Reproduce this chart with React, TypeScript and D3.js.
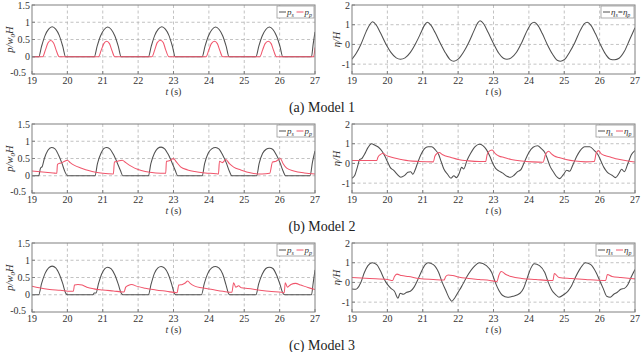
import { useEffect, useRef } from "react";
import * as d3 from "d3";

type Pt = [number, number];

const tTicks = [19, 20, 21, 22, 23, 24, 25, 26, 27];
const pTicks = [-0.5, 0, 0.5, 1, 1.5];
const etaTicks = [-1, 0, 1, 2];
const captions = ["(a) Model 1", "(b) Model 2", "(c) Model 3"];

// Model 1
const pA_s: Pt[] = [
  [19.0, 0], [19.19, 0], [19.27, 0.3], [19.37, 0.62], [19.47, 0.8], [19.57, 0.87], [19.67, 0.8], [19.77, 0.62], [19.87, 0.3], [19.95, 0],
  [20.76, 0], [20.84, 0.3], [20.94, 0.61], [21.04, 0.79], [21.14, 0.86], [21.24, 0.79], [21.34, 0.61], [21.44, 0.3], [21.52, 0],
  [22.29, 0], [22.37, 0.3], [22.47, 0.62], [22.57, 0.8], [22.67, 0.87], [22.77, 0.8], [22.87, 0.62], [22.97, 0.3], [23.05, 0],
  [23.81, 0], [23.89, 0.3], [23.99, 0.61], [24.09, 0.79], [24.19, 0.86], [24.29, 0.79], [24.39, 0.61], [24.49, 0.3], [24.57, 0],
  [25.33, 0], [25.41, 0.3], [25.51, 0.61], [25.61, 0.79], [25.71, 0.86], [25.81, 0.79], [25.91, 0.61], [26.01, 0.3], [26.09, 0],
  [26.9, 0], [26.95, 0.38], [27.0, 0.72],
];
const pA_p: Pt[] = [
  [19.0, 0], [19.3, 0], [19.38, 0.2], [19.45, 0.4], [19.53, 0.47], [19.61, 0.4], [19.68, 0.2], [19.77, 0],
  [20.88, 0], [20.96, 0.2], [21.03, 0.38], [21.11, 0.45], [21.19, 0.38], [21.26, 0.18], [21.34, 0],
  [22.39, 0], [22.47, 0.2], [22.54, 0.41], [22.63, 0.48], [22.71, 0.41], [22.78, 0.2], [22.87, 0],
  [23.92, 0], [24.0, 0.2], [24.07, 0.38], [24.16, 0.45], [24.24, 0.38], [24.31, 0.18], [24.39, 0],
  [25.44, 0], [25.52, 0.2], [25.59, 0.38], [25.68, 0.45], [25.76, 0.38], [25.83, 0.18], [25.91, 0],
  [26.96, 0], [27.0, 0.27],
];
const etaA: Pt[] = [
  [19.0, -0.75], [19.12, -0.45], [19.25, 0.0], [19.4, 0.65], [19.5, 1.0], [19.58, 1.15], [19.68, 1.0], [19.8, 0.6], [19.95, 0.05],
  [20.1, -0.4], [20.25, -0.68], [20.37, -0.75], [20.5, -0.68], [20.65, -0.4], [20.8, 0.05], [20.95, 0.6], [21.05, 0.98], [21.13, 1.12],
  [21.23, 0.98], [21.35, 0.6], [21.5, 0.05], [21.65, -0.45], [21.78, -0.78], [21.88, -0.85], [22.0, -0.75], [22.15, -0.4], [22.3, 0.1],
  [22.45, 0.7], [22.55, 1.08], [22.62, 1.2], [22.72, 1.05], [22.85, 0.6], [23.0, 0.05], [23.15, -0.45], [23.28, -0.7], [23.38, -0.75],
  [23.5, -0.68], [23.65, -0.4], [23.8, 0.1], [23.95, 0.7], [24.07, 1.05], [24.15, 1.12], [24.25, 0.98], [24.38, 0.55], [24.52, 0.0],
  [24.67, -0.5], [24.8, -0.8], [24.9, -0.85], [25.02, -0.75], [25.15, -0.4], [25.3, 0.1], [25.45, 0.7], [25.57, 1.05], [25.65, 1.12],
  [25.75, 0.98], [25.88, 0.55], [26.02, 0.0], [26.17, -0.5], [26.3, -0.75], [26.42, -0.78], [26.55, -0.7], [26.7, -0.35], [26.85, 0.25],
  [27.0, 0.85],
];

// Model 2
const pB_s: Pt[] = [
  [19.0, 0], [19.19, 0], [19.24, 0.22], [19.29, 0.27], [19.35, 0.5], [19.45, 0.74], [19.55, 0.82], [19.65, 0.78], [19.75, 0.6], [19.85, 0.35], [19.93, 0.12], [20.0, 0],
  [20.78, 0], [20.85, 0.35], [20.95, 0.65], [21.02, 0.78], [21.1, 0.82], [21.2, 0.78], [21.3, 0.62], [21.4, 0.4], [21.5, 0.15], [21.57, 0],
  [22.29, 0], [22.36, 0.35], [22.46, 0.65], [22.55, 0.79], [22.65, 0.83], [22.75, 0.78], [22.85, 0.62], [22.95, 0.4], [23.05, 0.15], [23.12, 0],
  [23.81, 0], [23.88, 0.35], [23.98, 0.65], [24.08, 0.78], [24.19, 0.82], [24.29, 0.77], [24.39, 0.6], [24.49, 0.38], [24.58, 0.13], [24.65, 0],
  [25.35, 0], [25.42, 0.35], [25.52, 0.65], [25.62, 0.77], [25.71, 0.8], [25.81, 0.76], [25.91, 0.6], [26.01, 0.38], [26.1, 0.13], [26.17, 0],
  [26.86, 0], [26.93, 0.4], [27.0, 0.72],
];
const pB_p: Pt[] = [
  [19.0, 0.14], [19.3, 0.11], [19.6, 0.08], [19.7, 0.07], [19.72, 0.33], [19.78, 0.36], [19.85, 0.38], [19.92, 0.42], [20.0, 0.45],
  [20.08, 0.38], [20.2, 0.3], [20.4, 0.22], [20.6, 0.15], [20.8, 0.1], [21.0, 0.07], [21.3, 0.05], [21.33, 0.4], [21.42, 0.42],
  [21.55, 0.45], [21.65, 0.38], [21.8, 0.28], [22.0, 0.18], [22.2, 0.12], [22.5, 0.08], [22.78, 0.07], [22.8, 0.42], [22.9, 0.44],
  [23.0, 0.5], [23.08, 0.4], [23.2, 0.26], [23.4, 0.17], [23.6, 0.12], [23.9, 0.08], [24.2, 0.06], [24.27, 0.05], [24.3, 0.42],
  [24.38, 0.38], [24.48, 0.47], [24.58, 0.35], [24.7, 0.25], [24.9, 0.17], [25.2, 0.08], [25.5, 0.05], [25.72, 0.07], [25.8, 0.4],
  [25.9, 0.42], [26.02, 0.5], [26.1, 0.35], [26.2, 0.22], [26.4, 0.14], [26.7, 0.08], [27.0, 0.05],
];
const etaB_s: Pt[] = [
  [19.0, -0.75], [19.08, -0.6], [19.15, -0.2], [19.22, 0.2], [19.28, 0.25], [19.35, 0.45], [19.45, 0.8], [19.55, 1.0], [19.65, 0.92],
  [19.75, 0.82], [19.85, 0.62], [19.92, 0.4], [20.0, 0.1], [20.08, -0.2], [20.18, -0.35], [20.28, -0.55], [20.38, -0.7], [20.48, -0.62],
  [20.58, -0.45], [20.66, -0.42], [20.72, -0.55], [20.78, -0.35], [20.86, 0.05], [20.95, 0.45], [21.05, 0.75], [21.15, 0.85], [21.25, 0.85],
  [21.35, 0.7], [21.45, 0.45], [21.52, 0.1], [21.6, -0.3], [21.7, -0.55], [21.8, -0.75], [21.88, -0.62], [21.95, -0.72], [22.02, -0.55],
  [22.1, -0.2], [22.16, -0.28], [22.25, 0.15], [22.35, 0.5], [22.48, 0.85], [22.6, 0.97], [22.7, 0.9], [22.8, 0.7], [22.9, 0.35],
  [22.98, 0.0], [23.06, -0.25], [23.15, -0.38], [23.25, -0.48], [23.38, -0.65], [23.48, -0.7], [23.58, -0.6], [23.68, -0.42], [23.78, -0.3],
  [23.88, 0.1], [24.0, 0.55], [24.12, 0.82], [24.25, 0.9], [24.35, 0.75], [24.45, 0.55], [24.52, 0.25], [24.6, -0.15], [24.7, -0.45],
  [24.8, -0.7], [24.87, -0.77], [24.97, -0.58], [25.07, -0.35], [25.15, -0.4], [25.25, -0.05], [25.35, 0.35], [25.45, 0.65], [25.58, 0.85],
  [25.72, 0.85], [25.85, 0.65], [25.95, 0.45], [26.03, 0.15], [26.12, -0.2], [26.22, -0.45], [26.35, -0.6], [26.45, -0.72], [26.55, -0.5],
  [26.62, -0.3], [26.7, -0.42], [26.8, 0.0], [26.9, 0.45], [27.0, 0.65],
];
const etaB_p: Pt[] = [
  [19.0, 0.15], [19.4, 0.15], [19.7, 0.15], [19.73, 0.3], [19.8, 0.45], [19.88, 0.52], [19.95, 0.42], [20.05, 0.35], [20.2, 0.27],
  [20.4, 0.2], [20.6, 0.14], [20.9, 0.1], [21.3, 0.08], [21.34, 0.35], [21.4, 0.5], [21.47, 0.55], [21.55, 0.45], [21.65, 0.38],
  [21.8, 0.3], [22.0, 0.2], [22.3, 0.13], [22.6, 0.1], [22.78, 0.1], [22.82, 0.45], [22.9, 0.65], [22.96, 0.68], [23.05, 0.5],
  [23.15, 0.38], [23.3, 0.3], [23.5, 0.2], [23.8, 0.12], [24.1, 0.08], [24.4, 0.06], [24.47, 0.45], [24.56, 0.62], [24.63, 0.5],
  [24.72, 0.38], [24.85, 0.3], [25.05, 0.2], [25.3, 0.12], [25.6, 0.08], [25.85, 0.1], [25.9, 0.5], [25.97, 0.65], [26.05, 0.48],
  [26.15, 0.4], [26.3, 0.33], [26.5, 0.22], [26.8, 0.12], [27.0, 0.07],
];

// Model 3
const pC_s: Pt[] = [
  [19.0, 0], [19.19, 0], [19.27, 0.32], [19.37, 0.62], [19.47, 0.78], [19.57, 0.83], [19.67, 0.78], [19.77, 0.6], [19.87, 0.32], [19.95, 0.05], [20.0, 0],
  [20.72, 0], [20.76, 0.05], [20.81, 0.05], [20.88, 0.32], [20.97, 0.6], [21.06, 0.76], [21.14, 0.8], [21.24, 0.75], [21.34, 0.58], [21.44, 0.3], [21.52, 0.05], [21.57, 0],
  [22.29, 0], [22.37, 0.32], [22.46, 0.62], [22.56, 0.78], [22.65, 0.82], [22.75, 0.77], [22.85, 0.6], [22.95, 0.3], [23.02, 0.05], [23.06, 0],
  [23.79, 0], [23.87, 0.32], [23.97, 0.62], [24.08, 0.78], [24.19, 0.82], [24.29, 0.77], [24.39, 0.6], [24.48, 0.3], [24.55, 0.05], [24.58, 0],
  [25.33, 0], [25.41, 0.32], [25.51, 0.6], [25.61, 0.76], [25.71, 0.8], [25.81, 0.76], [25.91, 0.58], [26.01, 0.3], [26.09, 0.05], [26.14, 0],
  [26.9, 0], [26.95, 0.35], [27.0, 0.72],
];
const pC_p: Pt[] = [
  [19.0, 0.25], [19.2, 0.2], [19.5, 0.15], [19.8, 0.13], [20.1, 0.1], [20.17, 0.1], [20.2, 0.28], [20.3, 0.3], [20.42, 0.28],
  [20.55, 0.22], [20.75, 0.17], [21.0, 0.14], [21.3, 0.11], [21.6, 0.08], [21.65, 0.22], [21.72, 0.27], [21.82, 0.3], [21.95, 0.25],
  [22.2, 0.19], [22.5, 0.14], [22.8, 0.1], [23.1, 0.06], [23.15, 0.28], [23.25, 0.3], [23.33, 0.34], [23.4, 0.4], [23.48, 0.32],
  [23.6, 0.25], [23.8, 0.2], [24.1, 0.15], [24.4, 0.1], [24.65, 0.07], [24.7, 0.35], [24.76, 0.22], [24.84, 0.26], [24.92, 0.2],
  [25.1, 0.18], [25.4, 0.14], [25.7, 0.1], [26.05, 0.07], [26.13, 0.06], [26.16, 0.35], [26.22, 0.22], [26.32, 0.3], [26.45, 0.33],
  [26.6, 0.28], [26.8, 0.21], [27.0, 0.15],
];
const etaC_s: Pt[] = [
  [19.0, -0.33], [19.1, -0.35], [19.15, -0.3], [19.25, 0.0], [19.35, 0.5], [19.45, 0.85], [19.57, 1.0], [19.7, 0.9], [19.8, 0.6],
  [19.9, 0.2], [20.0, -0.1], [20.1, -0.3], [20.2, -0.45], [20.3, -0.8], [20.36, -0.55], [20.45, -0.6], [20.55, -0.5], [20.65, -0.45],
  [20.75, -0.25], [20.85, 0.1], [20.95, 0.5], [21.07, 0.9], [21.15, 1.0], [21.3, 0.9], [21.45, 0.5], [21.55, 0.0], [21.65, -0.4],
  [21.75, -0.8], [21.82, -0.95], [21.9, -0.8], [22.0, -0.5], [22.1, -0.2], [22.25, 0.3], [22.45, 0.8], [22.6, 1.0], [22.8, 0.85],
  [22.95, 0.5], [23.05, 0.0], [23.15, -0.4], [23.25, -0.65], [23.4, -0.75], [23.55, -0.7], [23.75, -0.55], [23.85, -0.3], [23.95, 0.2],
  [24.05, 0.7], [24.15, 0.95], [24.3, 0.85], [24.45, 0.5], [24.55, 0.0], [24.65, -0.4], [24.75, -0.6], [24.85, -0.75], [25.0, -0.6],
  [25.1, -0.45], [25.2, -0.2], [25.3, 0.2], [25.45, 0.7], [25.6, 1.0], [25.75, 0.9], [25.9, 0.5], [26.0, 0.1], [26.1, -0.3],
  [26.2, -0.7], [26.3, -0.75], [26.4, -0.6], [26.5, -0.5], [26.6, -0.35], [26.7, -0.3], [26.8, -0.1], [26.9, 0.3], [27.0, 0.65],
];
const etaC_p: Pt[] = [
  [19.0, 0.25], [19.5, 0.2], [20.0, 0.15], [20.15, 0.1], [20.2, 0.3], [20.27, 0.42], [20.4, 0.35], [20.6, 0.3], [20.9, 0.2],
  [21.3, 0.15], [21.6, 0.12], [21.65, 0.3], [21.72, 0.38], [21.85, 0.35], [22.0, 0.28], [22.3, 0.2], [22.6, 0.15], [22.9, 0.1],
  [23.1, 0.05], [23.15, 0.35], [23.22, 0.55], [23.35, 0.4], [23.5, 0.3], [23.8, 0.2], [24.2, 0.15], [24.6, 0.1], [24.68, 0.1],
  [24.72, 0.45], [24.85, 0.25], [25.2, 0.2], [25.6, 0.15], [26.1, 0.1], [26.17, 0.1], [26.22, 0.4], [26.35, 0.3], [26.6, 0.25],
  [27.0, 0.18],
];

const BLACK = "#505050";
const RED = "#f0566c";
const FONT = "'Liberation Serif', 'Times New Roman', serif";

const colX = [[32, 315], [352, 635]];
const rowY = [5, 124, 243];
const plotH = 69;

type Panel = {
  row: number;
  col: number;
  kind: "p" | "eta";
  lines: { data: Pt[]; color: string }[];
  legend: "p" | "eta1" | "eta2";
};

const panels: Panel[] = [
  { row: 0, col: 0, kind: "p", lines: [{ data: pA_s, color: BLACK }, { data: pA_p, color: RED }], legend: "p" },
  { row: 0, col: 1, kind: "eta", lines: [{ data: etaA, color: BLACK }], legend: "eta1" },
  { row: 1, col: 0, kind: "p", lines: [{ data: pB_s, color: BLACK }, { data: pB_p, color: RED }], legend: "p" },
  { row: 1, col: 1, kind: "eta", lines: [{ data: etaB_s, color: BLACK }, { data: etaB_p, color: RED }], legend: "eta2" },
  { row: 2, col: 0, kind: "p", lines: [{ data: pC_s, color: BLACK }, { data: pC_p, color: RED }], legend: "p" },
  { row: 2, col: 1, kind: "eta", lines: [{ data: etaC_s, color: BLACK }, { data: etaC_p, color: RED }], legend: "eta2" },
];

export default function App() {
  const svgRef = useRef<SVGSVGElement>(null);

  useEffect(() => {
    if (!svgRef.current) return;
    const svg = d3.select(svgRef.current);
    svg.selectAll("*").remove();
    const defs = svg.append("defs");

    panels.forEach((pn, i) => {
      const [x0, x1] = colX[pn.col];
      const y0 = rowY[pn.row];
      const y1 = y0 + plotH;
      const x = d3.scaleLinear().domain([19, 27]).range([x0, x1]);
      const yDom = pn.kind === "p" ? [-0.5, 1.5] : [-1.5, 2];
      const y = d3.scaleLinear().domain(yDom).range([y1, y0]);
      const yTicks = pn.kind === "p" ? pTicks : etaTicks;
      const yGrid = pn.kind === "p" ? [0, 0.5, 1] : [-1, 0, 1];
      const g = svg.append("g");

      // dashed grid
      g.selectAll(".vg")
        .data(tTicks.slice(1, -1))
        .join("line")
        .attr("x1", (d) => x(d))
        .attr("x2", (d) => x(d))
        .attr("y1", y0)
        .attr("y2", y1)
        .attr("stroke", "#b4b4b4")
        .attr("stroke-width", 0.8)
        .attr("stroke-dasharray", "3,2.5");
      g.selectAll(".hg")
        .data(yGrid)
        .join("line")
        .attr("x1", x0)
        .attr("x2", x1)
        .attr("y1", (d) => y(d))
        .attr("y2", (d) => y(d))
        .attr("stroke", "#b4b4b4")
        .attr("stroke-width", 0.8)
        .attr("stroke-dasharray", "3,2.5");

      // lines
      defs
        .append("clipPath")
        .attr("id", `clip${i}`)
        .append("rect")
        .attr("x", x0)
        .attr("y", y0)
        .attr("width", x1 - x0)
        .attr("height", plotH);
      const line = d3
        .line<Pt>()
        .x((d) => x(d[0]))
        .y((d) => y(d[1]))
        .curve(d3.curveMonotoneX);
      pn.lines.forEach((ln) => {
        g.append("path")
          .attr("d", line(ln.data) ?? "")
          .attr("fill", "none")
          .attr("stroke", ln.color)
          .attr("stroke-width", 1.05)
          .attr("clip-path", `url(#clip${i})`);
      });

      // frame
      g.append("rect")
        .attr("x", x0)
        .attr("y", y0)
        .attr("width", x1 - x0)
        .attr("height", plotH)
        .attr("fill", "none")
        .attr("stroke", "#808080")
        .attr("stroke-width", 1);

      // ticks
      g.selectAll(".xt")
        .data(tTicks)
        .join("line")
        .attr("x1", (d) => x(d))
        .attr("x2", (d) => x(d))
        .attr("y1", y1)
        .attr("y2", y1 - 3)
        .attr("stroke", "#808080");
      g.selectAll(".yt")
        .data(yTicks)
        .join("line")
        .attr("x1", x0)
        .attr("x2", x0 + 3)
        .attr("y1", (d) => y(d))
        .attr("y2", (d) => y(d))
        .attr("stroke", "#808080");

      // tick labels
      g.selectAll(".xl")
        .data(tTicks)
        .join("text")
        .attr("x", (d) => x(d))
        .attr("y", y1 + 9.5)
        .attr("text-anchor", "middle")
        .attr("font-family", FONT)
        .attr("font-size", 10)
        .attr("fill", "#333")
        .text((d) => String(d));
      g.selectAll(".yl")
        .data(yTicks)
        .join("text")
        .attr("x", (d) => (d === yDom[0] ? x0 - 6 : x0 - 2))
        .attr("y", (d) => y(d) - (d === yDom[0] ? 2 : 0))
        .attr("dy", "0.35em")
        .attr("text-anchor", "end")
        .attr("font-family", FONT)
        .attr("font-size", 10)
        .attr("fill", "#333")
        .text((d) => String(d));

      // axis titles
      const xt = g
        .append("text")
        .attr("x", (x0 + x1) / 2)
        .attr("y", y1 + 21)
        .attr("text-anchor", "middle")
        .attr("font-family", FONT)
        .attr("font-size", 10)
        .attr("fill", "#333");
      xt.append("tspan").attr("font-style", "italic").text("t");
      xt.append("tspan").text(" (s)");

      const yt = g
        .append("text")
        .attr("transform", `translate(${pn.kind === "p" ? 13 : 340},${y0 + plotH / 2}) rotate(-90)`)
        .attr("text-anchor", "middle")
        .attr("font-family", FONT)
        .attr("font-size", 10.5)
        .attr("font-style", "italic")
        .attr("fill", "#333");
      if (pn.kind === "p") {
        yt.append("tspan").text("p/w");
        yt.append("tspan").attr("font-size", 7).attr("dy", 2).text("0");
        yt.append("tspan").attr("dy", -2).text("H");
      } else {
        yt.append("tspan").text("η/H");
      }

      // legend
      const lw = pn.legend === "eta1" ? 33 : pn.legend === "p" ? 37 : 38;
      const bx = x1 - lw - 1;
      const by = y0 + 1;
      g.append("rect")
        .attr("x", bx)
        .attr("y", by)
        .attr("width", lw)
        .attr("height", 12)
        .attr("fill", "#fff")
        .attr("stroke", "#9a9a9a")
        .attr("stroke-width", 0.8);
      const sym = pn.legend === "p" ? "p" : "η";
      const items =
        pn.legend === "eta1"
          ? [{ color: BLACK, off: 2 }]
          : [
              { color: BLACK, off: 2 },
              { color: RED, off: lw / 2 + 1 },
            ];
      items.forEach((it, k) => {
        g.append("line")
          .attr("x1", bx + it.off)
          .attr("x2", bx + it.off + 7)
          .attr("y1", by + 6)
          .attr("y2", by + 6)
          .attr("stroke", it.color)
          .attr("stroke-width", 1);
        const tx = g
          .append("text")
          .attr("x", bx + it.off + 8)
          .attr("y", by + 9)
          .attr("font-family", FONT)
          .attr("font-size", 9)
          .attr("font-style", "italic")
          .attr("fill", "#333");
        tx.append("tspan").text(sym);
        tx.append("tspan").attr("font-size", 6).attr("dy", 2).text(k === 0 ? "s" : "p");
        if (pn.legend === "eta1") {
          tx.append("tspan").attr("dy", -2).attr("font-style", "normal").text("=");
          tx.append("tspan").text("η");
          tx.append("tspan").attr("font-size", 6).attr("dy", 2).text("p");
        }
      });
    });

    // captions
    svg
      .selectAll(".cap")
      .data(captions)
      .join("text")
      .attr("x", 322)
      .attr("y", (_, i) => rowY[i] + 107)
      .attr("text-anchor", "middle")
      .attr("font-family", FONT)
      .attr("font-size", 14)
      .attr("fill", "#222")
      .text((d) => d);
  }, []);

  return (
    <svg
      ref={svgRef}
      width={643}
      height={352}
      style={{ position: "absolute", left: 0, top: 0, background: "#fff" }}
    />
  );
}
